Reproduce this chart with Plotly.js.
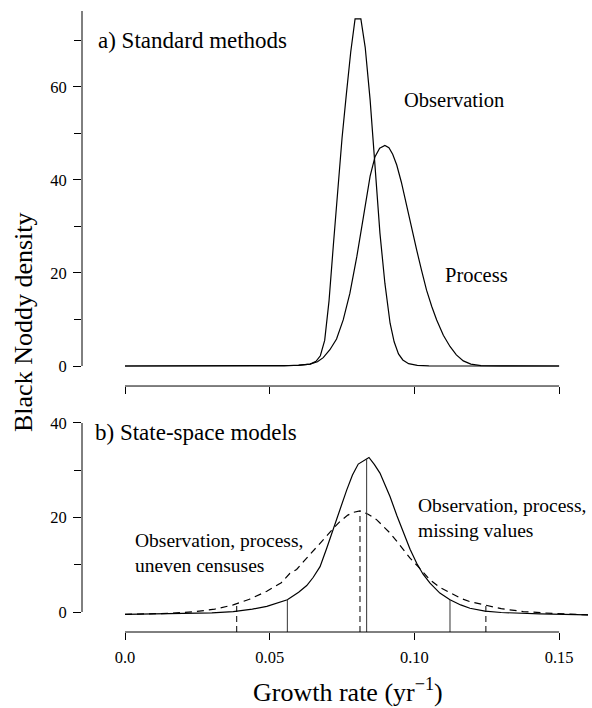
<!DOCTYPE html>
<html>
<head>
<meta charset="utf-8">
<script src="https://cdn.plot.ly/plotly-3.0.1.min.js"></script>
<style>html,body{margin:0;padding:0;background:#fff;}#chart{width:592px;height:708px;}</style>
</head>
<body>
<div id="chart"></div>
<script>
// ---- Panel a) Standard methods ----
var obsX = [0.000, 0.020, 0.040, 0.055, 0.060, 0.0640, 0.0660, 0.0675, 0.0690, 0.0705, 0.0720, 0.0735, 0.0750, 0.0765, 0.0780, 0.0795, 0.0815, 0.0830, 0.0847, 0.0864, 0.0881, 0.0898, 0.0916, 0.0930, 0.0945, 0.0960, 0.0980, 0.1010, 0.1050, 0.1200, 0.1500];
var obsY = [0.0, 0.0, 0.0, 0.05, 0.2, 0.4, 1.0, 2.2, 5.5, 14.0, 26.0, 38.5, 49.0, 58.5, 67.5, 74.6, 74.6, 68.5, 57.2, 42.9, 28.5, 17.8, 9.2, 5.2, 2.6, 1.3, 0.5, 0.15, 0.05, 0.0, 0.0];

var procX = [0.000, 0.040, 0.055, 0.060, 0.0639, 0.0665, 0.0685, 0.0708, 0.0731, 0.0754, 0.0777, 0.0801, 0.0824, 0.0847, 0.0864, 0.0880, 0.0898, 0.0912, 0.0925, 0.0939, 0.0955, 0.0973, 0.0990, 0.1008, 0.1025, 0.1042, 0.1060, 0.1077, 0.1100, 0.1123, 0.1145, 0.1169, 0.1195, 0.1230, 0.1300, 0.1500];
var procY = [0.0, 0.0, 0.05, 0.15, 0.4, 0.9, 1.8, 3.5, 5.8, 9.9, 15.6, 23.5, 32.1, 40.8, 45.0, 46.8, 47.4, 46.9, 45.5, 43.2, 39.5, 34.3, 29.5, 24.9, 20.5, 16.3, 12.8, 9.9, 6.6, 4.2, 2.4, 1.1, 0.4, 0.1, 0.02, 0.0];

// ---- Panel b) State-space models ----
var ssMissX = [0.000, 0.020, 0.030, 0.0374, 0.0440, 0.0490, 0.0530, 0.0561, 0.0600, 0.0628, 0.0650, 0.0674, 0.0697, 0.0720, 0.0743, 0.0766, 0.0786, 0.0806, 0.0843, 0.0862, 0.0881, 0.0900, 0.0916, 0.0940, 0.0962, 0.0985, 0.1008, 0.1030, 0.1054, 0.1088, 0.1123, 0.1160, 0.1192, 0.1244, 0.1300, 0.1434, 0.1600];
var ssMissY = [-0.5, -0.4, -0.2, 0.1, 0.6, 1.2, 1.9, 2.6, 4.2, 5.6, 7.3, 9.6, 13.5, 17.7, 21.8, 25.8, 29.0, 31.3, 32.7, 31.2, 29.4, 26.7, 24.4, 20.3, 16.7, 13.3, 10.3, 8.0, 6.1, 4.0, 2.6, 1.5, 0.8, 0.2, -0.1, -0.4, -0.6];

var ssUnevX = [0.000, 0.015, 0.0245, 0.0310, 0.0374, 0.0430, 0.0490, 0.0540, 0.0570, 0.0593, 0.0616, 0.0645, 0.0674, 0.0700, 0.0720, 0.0745, 0.0770, 0.0790, 0.0812, 0.0840, 0.0870, 0.0893, 0.0916, 0.0940, 0.0962, 0.0985, 0.1013, 0.1034, 0.1054, 0.1088, 0.1123, 0.1160, 0.1192, 0.1244, 0.1300, 0.1376, 0.1450, 0.1600];
var ssUnevY = [-0.5, -0.3, 0.1, 0.6, 1.5, 2.7, 4.4, 6.2, 8.2, 9.0, 10.6, 12.5, 14.5, 16.3, 17.7, 19.3, 20.5, 21.1, 21.4, 20.7, 19.5, 18.2, 16.7, 14.9, 13.1, 11.4, 9.6, 8.1, 6.8, 5.2, 4.0, 2.9, 2.2, 1.4, 0.7, 0.1, -0.2, -0.6];

// credible interval markers (2.5%, median, 97.5%) and curve heights there
var ciMissX = [0.0561, 0.0835, 0.1123];
var ciMissY = [2.6, 32.4, 2.6];
var ciUnevX = [0.0386, 0.0812, 0.1247];
var ciUnevY = [1.6, 21.4, 1.4];

// tick labels
var xTickVals = [0, 0.05, 0.10, 0.15];
var xTickText = ['0.0', '0.05', '0.10', '0.15'];
var yTopTickVals = [0, 20, 40, 60];
var yBotTickVals = [0, 20, 40];
var yMinorStep = 10;

// ---- layout constants ----
var FONT = 'Liberation Serif, Times New Roman, Times, serif';
var xRange = [-0.01486, 0.16068];
var yTopRange = [-4.3, 76.3];
var yBotRange = [-4.23, 40];
var axisEnd = 0.15;

function ciTrace(xs, ys, dash, color, xa, ya) {
  var X = [], Y = [];
  for (var i = 0; i < xs.length; i++) {
    X.push(xs[i], xs[i], null);
    Y.push(yBotRange[0], ys[i], null);
  }
  return {x: X, y: Y, mode: 'lines', xaxis: xa, yaxis: ya, hoverinfo: 'skip',
          line: {color: color, width: 1, dash: dash}, showlegend: false};
}

var traces = [
  {x: obsX, y: obsY, mode: 'lines', xaxis: 'x', yaxis: 'y', line: {color: '#000', width: 1.2}, showlegend: false, name: 'Observation'},
  {x: procX, y: procY, mode: 'lines', xaxis: 'x', yaxis: 'y', line: {color: '#000', width: 1.2}, showlegend: false, name: 'Process'},
  {x: ssUnevX, y: ssUnevY, mode: 'lines', xaxis: 'x2', yaxis: 'y2', line: {color: '#000', width: 1.2, dash: '7px,5px'}, showlegend: false, name: 'uneven censuses'},
  {x: ssMissX, y: ssMissY, mode: 'lines', xaxis: 'x2', yaxis: 'y2', line: {color: '#000', width: 1.2}, showlegend: false, name: 'missing values'},
  ciTrace(ciUnevX, ciUnevY, '6px,4px', '#000', 'x2', 'y2'),
  ciTrace(ciMissX, ciMissY, 'solid', '#333', 'x2', 'y2')
];

var tickFont = {family: FONT, size: 16.5, color: '#000'};
function xAxis(anchor, showLabels) {
  return {domain: [0, 1], range: xRange, anchor: anchor, showgrid: false, zeroline: false, showline: false,
          tickmode: 'array', tickvals: xTickVals, ticktext: xTickText, showticklabels: showLabels,
          ticks: 'outside', ticklen: 7, tickwidth: 1, tickcolor: '#000', tickfont: tickFont, ticklabelstandoff: 3};
}
function yAxis(anchor, domain, range, vals) {
  return {domain: domain, range: range, anchor: anchor, showgrid: false, zeroline: false, showline: false,
          tickmode: 'array', tickvals: vals,
          ticks: 'outside', ticklen: 8, tickwidth: 1, tickcolor: '#000', tickfont: tickFont, ticklabelstandoff: 3,
          minor: {dtick: yMinorStep, tick0: 0, ticks: 'outside', ticklen: 7, tickwidth: 1, tickcolor: '#000', showgrid: false}};
}

var layout = {
  width: 592, height: 708,
  margin: {l: 82, r: 2, t: 11, b: 76},
  paper_bgcolor: '#fff', plot_bgcolor: '#fff',
  font: {family: FONT, color: '#000'},
  showlegend: false,
  xaxis: xAxis('y', false),
  yaxis: yAxis('x', [0.3961, 1], yTopRange, yTopTickVals),
  xaxis2: xAxis('y2', true),
  yaxis2: yAxis('x2', [0, 0.3366], yBotRange, yBotTickVals),
  shapes: [
    {type: 'line', xref: 'paper', yref: 'y', x0: 0, x1: 0, y0: 0, y1: yTopRange[1], line: {color: '#000', width: 1}},
    {type: 'line', xref: 'paper', yref: 'y2', x0: 0, x1: 0, y0: 0, y1: yBotRange[1], line: {color: '#000', width: 1}},
    {type: 'line', xref: 'x', yref: 'y domain', x0: 0, x1: axisEnd, y0: 0, y1: 0, line: {color: '#000', width: 1}},
    {type: 'line', xref: 'x2', yref: 'y2 domain', x0: 0, x1: axisEnd, y0: 0, y1: 0, line: {color: '#000', width: 1}}
  ],
  annotations: [
    {text: 'a) Standard methods', xref: 'paper', yref: 'paper', x: 0.0276, y: 0.953, xanchor: 'left', yanchor: 'middle', showarrow: false, font: {family: FONT, size: 23}},
    {text: 'Observation', xref: 'paper', yref: 'paper', x: 0.630, y: 0.8566, xanchor: 'left', yanchor: 'middle', showarrow: false, font: {family: FONT, size: 20.5}},
    {text: 'Process', xref: 'paper', yref: 'paper', x: 0.7106, y: 0.5749, xanchor: 'left', yanchor: 'middle', showarrow: false, font: {family: FONT, size: 20.5}},
    {text: 'b) State-space models', xref: 'paper', yref: 'paper', x: 0.0217, y: 0.3205, xanchor: 'left', yanchor: 'middle', showarrow: false, font: {family: FONT, size: 23}},
    {text: 'Observation, process,<br>uneven censuses', xref: 'paper', yref: 'paper', x: 0.1004, y: 0.128, xanchor: 'left', yanchor: 'middle', align: 'left', showarrow: false, font: {family: FONT, size: 19.5}},
    {text: 'Observation, process,<br>missing values', xref: 'paper', yref: 'paper', x: 0.6575, y: 0.1828, xanchor: 'left', yanchor: 'middle', align: 'left', showarrow: false, font: {family: FONT, size: 19.5}},
    {text: 'Black Noddy density', xref: 'paper', yref: 'paper', x: -0.1142, y: 0.4992, xanchor: 'center', yanchor: 'middle', textangle: -90, showarrow: false, font: {family: FONT, size: 26}},
    {text: 'Growth rate (yr<sup>\u22121</sup>)', xref: 'paper', yref: 'paper', x: 0.5236, y: -0.0934, xanchor: 'center', yanchor: 'middle', showarrow: false, font: {family: FONT, size: 26}}
  ]
};

Plotly.newPlot('chart', traces, layout, {staticPlot: true, displayModeBar: false});
</script>
</body>
</html>
